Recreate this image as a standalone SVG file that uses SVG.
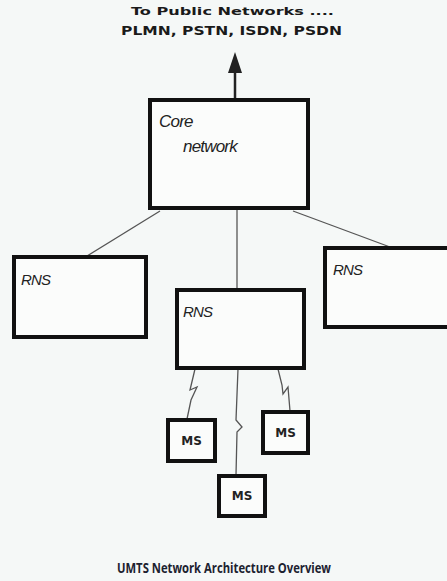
<svg xmlns="http://www.w3.org/2000/svg" width="447" height="581" viewBox="0 0 447 581">
<style>
.box{fill:#fbfcfb;stroke:#111;stroke-width:4}
.ms{fill:#fbfcfb;stroke:#111;stroke-width:4}
.lbl{font-family:"Liberation Sans",Arial,sans-serif;font-style:italic;fill:#222;letter-spacing:-0.8px}
.mst{font-family:"DejaVu Sans",sans-serif;font-weight:bold;font-size:12px;fill:#222;text-anchor:middle}
.top{font-family:"DejaVu Sans",sans-serif;font-weight:bold;fill:#1a1a1a}
.ln{fill:none;stroke:#555;stroke-width:1.3}
</style>
<rect width="447" height="581" fill="#f5f8f7"/>
<g id="header">
<text class="top" x="131" y="15" font-size="11" textLength="203" lengthAdjust="spacingAndGlyphs">To Public Networks ....</text>
<text class="top" x="121" y="35" font-size="12" textLength="221" lengthAdjust="spacingAndGlyphs">PLMN, PSTN, ISDN, PSDN</text>
</g>
<g id="connectors">
<line x1="235" y1="100" x2="235" y2="71" stroke="#222" stroke-width="2.5"/>
<polygon points="235,52 228,73 242,73" fill="#222"/>
<line class="ln" x1="160" y1="211" x2="87" y2="256"/>
<line class="ln" x1="237" y1="210" x2="237" y2="289"/>
<line class="ln" x1="293" y1="211" x2="390" y2="247"/>
<path class="ln" d="M195,369 L190,390 L197,387 L191,400 L187,419"/>
<path class="ln" d="M238,369 L236,420 L242,427 L237,432 L236,475"/>
<path class="ln" d="M278,369 L282,385 L283,394 L288,387 L290,411"/>
</g>
<g id="core">
<rect class="box" x="150" y="100" width="158" height="108"/>
<text class="lbl" x="159" y="127" font-size="17">Core</text>
<text class="lbl" x="183" y="152" font-size="17">network</text>
</g>
<g id="rns-left">
<rect class="box" x="14" y="257" width="132" height="80"/>
<text class="lbl" x="21" y="285" font-size="15">RNS</text>
</g>
<g id="rns-middle">
<rect class="box" x="177" y="290" width="127" height="78"/>
<text class="lbl" x="183" y="317" font-size="15">RNS</text>
</g>
<g id="rns-right">
<rect class="box" x="325" y="248" width="130" height="79"/>
<text class="lbl" x="333" y="275" font-size="15">RNS</text>
</g>
<g id="ms-left">
<rect class="ms" x="168" y="420" width="47" height="41"/>
<text class="mst" x="191.5" y="445">MS</text>
</g>
<g id="ms-right">
<rect class="ms" x="263" y="412" width="45" height="41"/>
<text class="mst" x="285.5" y="437">MS</text>
</g>
<g id="ms-bottom">
<rect class="ms" x="219" y="476" width="46" height="40"/>
<text class="mst" x="242" y="500">MS</text>
</g>
<g id="title">
<text x="224" y="573" text-anchor="middle" font-family="'Open Sans',sans-serif" font-weight="bold" font-size="14" textLength="214" lengthAdjust="spacingAndGlyphs" fill="#1c2230">UMTS Network Architecture Overview</text>
</g>
</svg>
